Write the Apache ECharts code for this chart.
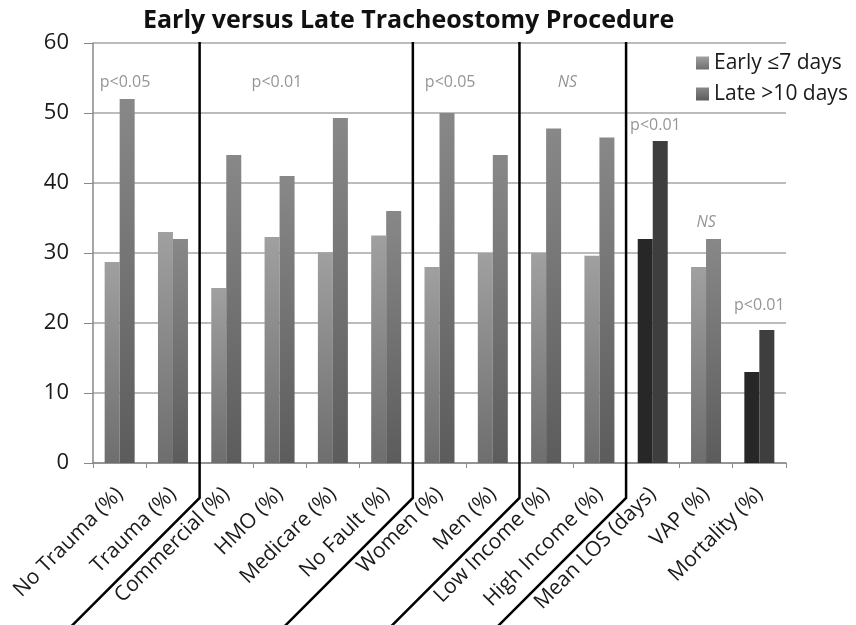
<!DOCTYPE html>
<html>
<head>
<meta charset="utf-8">
<script src="https://cdn.jsdelivr.net/npm/echarts@6/dist/echarts.min.js"></script>
<style>
  html, body { margin: 0; padding: 0; background: #fff; }
  #chart { width: 856px; height: 625px; }
</style>
</head>
<body>
<div id="chart"></div>
<script>
const categories = ['No Trauma (%)', 'Trauma (%)', 'Commercial (%)', 'HMO (%)', 'Medicare (%)',
  'No Fault (%)', 'Women (%)', 'Men (%)', 'Low Income (%)', 'High Income (%)',
  'Mean LOS (days)', 'VAP (%)', 'Mortality (%)']
const earlyValues = [28.7, 33, 25, 32.3, 30.1, 32.5, 28, 30, 30, 29.6, 32, 28, 13]
const lateValues = [52, 32, 44, 41, 49.3, 36, 50, 44, 47.8, 46.5, 46, 32, 19]
const darkCategories = ['Mean LOS (days)', 'Mortality (%)']
// group boundaries, counted in categories from the left edge
const separators = [2, 6, 8, 10]
// significance notes: position in categories from the left edge, y value, text
const noteX = [0.6, 3.45, 6.7, 8.9, 10.55, 11.5, 12.5]
const noteY = [54.3, 54.3, 54.3, 54.3, 48.2, 34.4, 22.5]
const noteText = ['p<0.05', 'p<0.01', 'p<0.05', 'NS', 'p<0.01', 'NS', 'p<0.01']

const FONT = 'Open Sans'
const grad = (top, bottom) => new echarts.graphic.LinearGradient(0, 0, 0, 1, [
  { offset: 0, color: top }, { offset: 1, color: bottom }
])

const chart = echarts.init(document.getElementById('chart'))

const barData = (values, dark) => values.map((v, i) =>
  darkCategories.includes(categories[i])
    ? { value: v, itemStyle: { color: dark } }
    : v)

const option = {
  animation: false,
  textStyle: { fontFamily: FONT },
  title: {
    text: 'Early versus Late Tracheostomy Procedure',
    left: 143,
    top: 8,
    padding: 0,
    textStyle: { fontFamily: FONT, fontWeight: 'bold', fontSize: 25, color: '#111' }
  },
  legend: {
    orient: 'vertical',
    left: 691,
    top: 46,
    itemWidth: 13,
    itemHeight: 13,
    itemGap: 7,
    icon: 'rect',
    textStyle: { fontFamily: FONT, fontSize: 21, color: '#1a1a1a', lineHeight: 24 },
    data: ['Early ≤7 days', 'Late >10 days']
  },
  grid: { left: 93, right: 70, top: 43, bottom: 162 },
  xAxis: [{
    type: 'category',
    data: categories,
    axisLine: { lineStyle: { color: '#888', width: 1.5 } },
    axisTick: { show: true, length: 5, lineStyle: { color: '#888' } },
    axisLabel: { rotate: 45, margin: 28, fontFamily: FONT, fontSize: 21, color: '#1a1a1a', interval: 0 }
  }, {
    type: 'value',
    min: 0,
    max: categories.length,
    show: false
  }],
  yAxis: {
    type: 'value',
    min: 0,
    max: 60,
    interval: 10,
    axisLine: { show: true, lineStyle: { color: '#888', width: 1.5 } },
    axisTick: { show: true, length: 9, lineStyle: { color: '#888' } },
    axisLabel: { fontFamily: FONT, fontSize: 22, color: '#1a1a1a', margin: 24 },
    splitLine: { lineStyle: { color: '#a6a6a6', width: 1.5 } }
  },
  series: [{
    name: 'Early ≤7 days',
    type: 'bar',
    barWidth: 15,
    barGap: '0%',
    itemStyle: { color: grad('#a0a0a0', '#6e6e6e') },
    data: barData(earlyValues, '#272727')
  }, {
    name: 'Late >10 days',
    type: 'bar',
    barWidth: 15,
    barGap: '0%',
    itemStyle: { color: grad('#888888', '#5c5c5c') },
    data: barData(lateValues, '#3e3e3e')
  }, {
    name: 'notes',
    type: 'scatter',
    xAxisIndex: 1,
    symbolSize: 0,
    silent: true,
    label: {
      show: true,
      position: 'inside',
      fontFamily: FONT,
      fontSize: 16,
      color: '#7a7a7a',
      formatter: p => noteText[p.dataIndex]
    },
    data: noteX.map((x, i) => ({
      value: [x, noteY[i]],
      label: noteText[i] === 'NS' ? { fontStyle: 'italic' } : {}
    }))
  }]
}

chart.setOption(option)

// separator lines between groups: vertical through the plot, then 45° down through the labels
const H = chart.getHeight()
const yTop = chart.convertToPixel({ yAxisIndex: 0 }, 60) - 1
const yBase = chart.convertToPixel({ yAxisIndex: 0 }, 0)
const bendY = yBase + 35
chart.setOption({
  graphic: separators.map(b => {
    const x = chart.convertToPixel({ xAxisIndex: 1 }, b)
    return {
      type: 'polyline',
      z: 100,
      shape: { points: [[x, yTop], [x, bendY], [x - (H + 5 - bendY), H + 5]] },
      style: { stroke: '#000', lineWidth: 2.5, fill: null }
    }
  })
})
</script>
</body>
</html>
